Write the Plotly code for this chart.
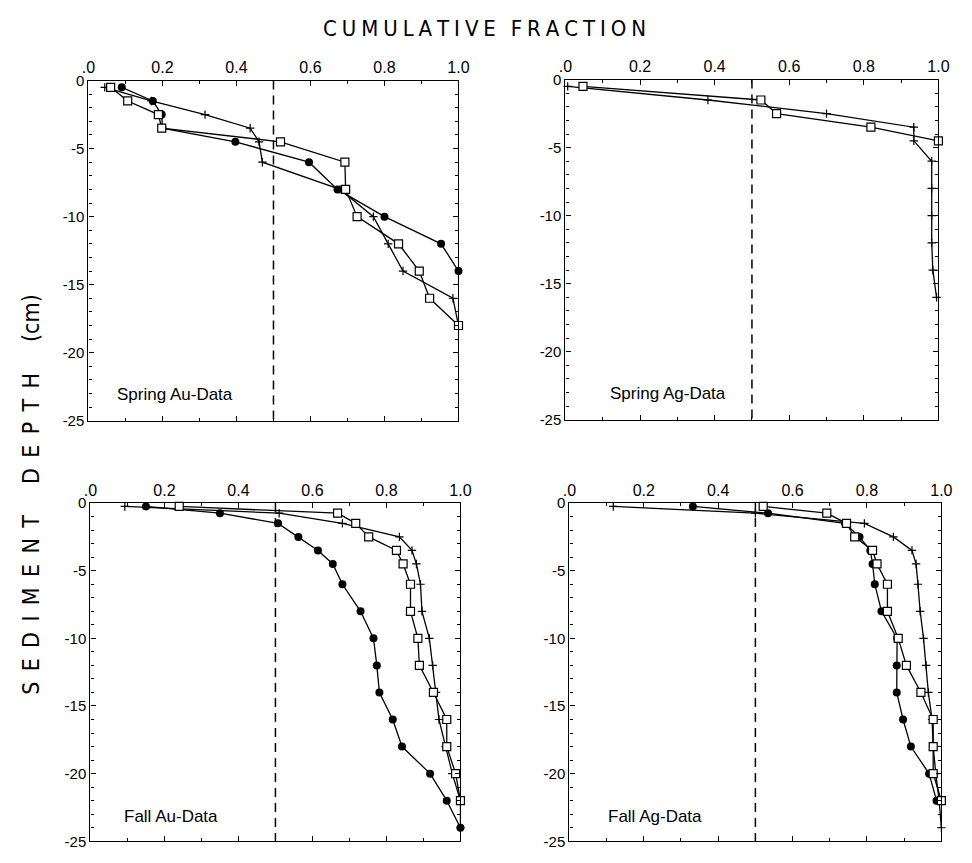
import plotly.graph_objects as go

# ---------------- data ----------------
spring_depth = [-0.5, -1.5, -2.5, -3.5, -4.5, -6, -8, -10, -12, -14, -16, -18]
fall_depth = [-0.25, -0.75, -1.5, -2.5, -3.5, -4.5, -6, -8, -10, -12, -14, -16, -18, -20, -22, -24]

# Spring Au
spring_au_plus = [0.044, 0.17, 0.315, 0.437, 0.461, 0.47, 0.68, 0.77, 0.81, 0.85, 0.985, 1.0]
spring_au_circle = [0.09, 0.174, 0.198, 0.20, 0.397, 0.596, 0.673, 0.80, 0.953, 1.0]
spring_au_square = [0.06, 0.106, 0.189, 0.198, 0.519, 0.693, 0.695, 0.726, 0.838, 0.894, 0.922, 1.0]

# Spring Ag
spring_ag_plus = [0.006, 0.382, 0.70, 0.934, 0.934, 0.982, 0.982, 0.982, 0.982, 0.985, 0.995]
spring_ag_square = [0.047, 0.524, 0.566, 0.819, 1.0]

# Fall Au
fall_au_plus = [0.093, 0.51, 0.681, 0.835, 0.869, 0.881, 0.892, 0.896, 0.916, 0.925, 0.934, 0.942, 0.96, 0.978, 1.0, 1.0]
fall_au_circle = [0.15, 0.35, 0.507, 0.562, 0.615, 0.655, 0.681, 0.73, 0.765, 0.774, 0.781, 0.817, 0.842, 0.918, 0.963, 1.0]
fall_au_square = [0.24, 0.668, 0.717, 0.752, 0.827, 0.845, 0.865, 0.865, 0.885, 0.889, 0.927, 0.963, 0.963, 0.987, 1.0]

# Fall Ag
fall_ag_plus = [0.118, 0.50, 0.793, 0.871, 0.921, 0.932, 0.937, 0.943, 0.952, 0.959, 0.965, 0.975, 0.978, 0.985, 0.994, 1.0]
fall_ag_circle = [0.332, 0.534, 0.741, 0.78, 0.809, 0.815, 0.821, 0.839, 0.881, 0.88, 0.88, 0.897, 0.918, 0.967, 0.987]
fall_ag_square = [0.521, 0.692, 0.745, 0.767, 0.815, 0.827, 0.855, 0.855, 0.884, 0.906, 0.945, 0.978, 0.978, 0.978, 1.0]

panel_labels = ["Spring Au-Data", "Spring Ag-Data", "Fall Au-Data", "Fall Ag-Data"]
x_tickvals = [0, 0.2, 0.4, 0.6, 0.8, 1.0]
x_ticktext = [".0", "0.2", "0.4", "0.6", "0.8", "1.0"]
y_tickvals = [0, -5, -10, -15, -20, -25]
y_ticktext = ["0", "-5", "-10", "-15", "-20", "-25"]
median_line = 0.5
x_title = "CUMULATIVE FRACTION"
y_title_words = ["SEDIMENT", "DEPTH"]
y_title_unit = "(cm)"

# ---------------- layout helpers ----------------
W, H = 972, 863
TICKFONT = "Liberation Sans, Arial, Helvetica, sans-serif"
NARROW = "Liberation Sans Narrow, DejaVu Sans Condensed, Arial Narrow, Liberation Sans, sans-serif"

panels = [
    dict(px=(83, 460), py=(73, 420), lx=0.072, ly=-23.1,
         series=[(spring_au_plus, spring_depth, "plus"),
                 (spring_au_circle, spring_depth, "circle"),
                 (spring_au_square, spring_depth, "square")]),
    dict(px=(569, 949), py=(72, 419), lx=0.113, ly=-23.1,
         series=[(spring_ag_plus, spring_depth, "plus"),
                 (spring_ag_square, spring_depth, "square")]),
    dict(px=(85, 462), py=(504, 849), lx=0.086, ly=-23.2,
         series=[(fall_au_plus, fall_depth, "plus"),
                 (fall_au_circle, fall_depth, "circle"),
                 (fall_au_square, fall_depth, "square")]),
    dict(px=(573, 952), py=(504, 849), lx=0.098, ly=-23.2,
         series=[(fall_ag_plus, fall_depth, "plus"),
                 (fall_ag_circle, fall_depth, "circle"),
                 (fall_ag_square, fall_depth, "square")]),
]

marker_styles = {
    "plus": dict(symbol="cross-thin", size=6, color="black", line=dict(color="black", width=1.2)),
    "circle": dict(symbol="circle", size=8, color="black", line=dict(color="black", width=0)),
    "square": dict(symbol="square", size=8, color="white", line=dict(color="black", width=1.2)),
}

fig = go.Figure()
layout = dict(
    width=W, height=H,
    margin=dict(l=0, r=0, t=0, b=0),
    paper_bgcolor="white", plot_bgcolor="white",
    showlegend=False,
    annotations=[],
)

for i, p in enumerate(panels):
    n = "" if i == 0 else str(i + 1)
    xa, ya = "x" + n, "y" + n
    x0, x1 = p["px"]
    y0, y1 = p["py"]
    layout["xaxis" + n] = dict(
        domain=[x0 / W, x1 / W], anchor=ya, side="top", range=[0, 1],
        tickvals=x_tickvals, ticktext=x_ticktext,
        ticks="inside", ticklen=5, tickwidth=1, tickcolor="black",
        minor=dict(dtick=0.1, tick0=0, ticks="inside", ticklen=3, tickcolor="black"),
        showline=True, linecolor="black", linewidth=1.3, mirror="ticks",
        showgrid=False, zeroline=False,
        tickfont=dict(family=TICKFONT, size=16, color="black"),
    )
    layout["yaxis" + n] = dict(
        domain=[1 - y1 / H, 1 - y0 / H], anchor=xa, range=[-25, 0],
        tickvals=y_tickvals, ticktext=y_ticktext,
        ticks="inside", ticklen=5, tickwidth=1, tickcolor="black",
        minor=dict(dtick=1, tick0=0, ticks="inside", ticklen=3, tickcolor="black"),
        showline=True, linecolor="black", linewidth=1.3, mirror="ticks",
        showgrid=False, zeroline=False,
        tickfont=dict(family=TICKFONT, size=15, color="black"),
    )
    # dashed median line
    fig.add_trace(go.Scatter(
        x=[median_line, median_line], y=[0, -25], xaxis=xa, yaxis=ya,
        mode="lines", line=dict(color="black", width=1.5, dash="9px,6px"),
        hoverinfo="skip"))
    for xs, ds, kind in p["series"]:
        fig.add_trace(go.Scatter(
            x=xs, y=ds[:len(xs)], xaxis=xa, yaxis=ya,
            mode="lines+markers", cliponaxis=False,
            line=dict(color="black", width=1.3),
            marker=marker_styles[kind]))
    layout["annotations"].append(dict(
        x=p["lx"], y=p["ly"], xref=xa, yref=ya, text=panel_labels[i],
        xanchor="left", yanchor="middle", showarrow=False,
        font=dict(family=TICKFONT, size=17, color="black")))

def spaced_word(w, gap):
    return gap.join(list(w))

title_text = "\u2002\u2005".join(spaced_word(w, "\u2005") for w in x_title.split(" "))
ytitle_text = "\u2003\u2002".join([spaced_word(w, "\u2002") for w in y_title_words] + [y_title_unit])

layout["annotations"].append(dict(
    x=0.5, y=1 - 20 / H, xref="paper", yref="paper",
    text=title_text,
    showarrow=False, xanchor="center", yanchor="middle",
    font=dict(family=NARROW, size=22, color="black")))
layout["annotations"].append(dict(
    x=25 / W, y=1 - 495 / H, xref="paper", yref="paper",
    text=ytitle_text,
    textangle=-90,
    showarrow=False, xanchor="center", yanchor="middle",
    font=dict(family=NARROW, size=23, color="black")))

fig.update_layout(**layout)
fig.write_html("out.html")
